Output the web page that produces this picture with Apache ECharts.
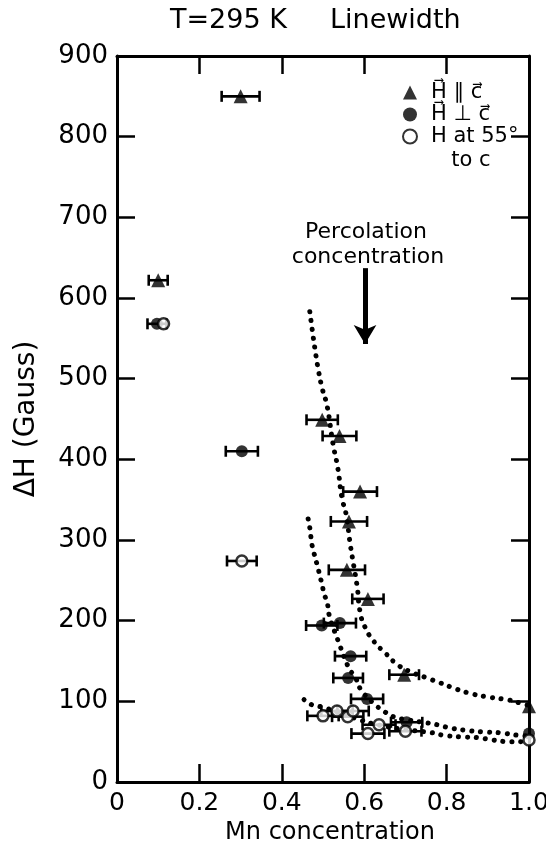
<!DOCTYPE html>
<html><head><meta charset="utf-8">
<script src="https://cdn.jsdelivr.net/npm/echarts@6/dist/echarts.min.js"></script>
<style>html,body{margin:0;padding:0;background:#fff}#c{width:546px;height:853px}</style>
</head><body><div id="c"></div>
<script>
const FONT = '"DejaVu Sans", sans-serif';

// tick labels
const xTickLabels = ['0', '0.2', '0.4', '0.6', '0.8', '1.0'];
const yTickLabels = ['0', '100', '200', '300', '400', '500', '600', '700', '800', '900'];

// H parallel c (filled triangles)
const parX   = [0.10, 0.30, 0.498, 0.54, 0.59, 0.563, 0.558, 0.609, 0.697, 1.0];
const parY   = [622, 850, 449, 429, 360, 323, 263, 227, 133, 94];
const parErr = [0.023, 0.046, 0.038, 0.041, 0.041, 0.044, 0.044, 0.038, 0.036, 0];

// H perpendicular c (filled circles)
const perX   = [0.097, 0.303, 0.497, 0.541, 0.567, 0.561, 0.607, 0.703, 1.0];
const perY   = [568, 410, 194, 197, 156, 129, 103, 74, 60];
const perErr = [0.023, 0.039, 0.038, 0.039, 0.038, 0.036, 0.039, 0.038, 0];

// H at 55 deg to c (open circles)
const obqX   = [0.113, 0.303, 0.50, 0.534, 0.56, 0.573, 0.636, 0.609, 0.70, 1.0];
const obqY   = [568, 274, 82, 88, 81, 88, 71, 60, 63, 52];
const obqErr = [0, 0.036, 0.038, 0.038, 0.038, 0.038, 0.04, 0.04, 0.039, 0];

// dotted guide curves
const curvePar = [[0.468,583],[0.474,560],[0.481,535],[0.489,510],[0.498,488],[0.51,466],[0.524,420],[0.536,389],[0.546,352],[0.556,332],[0.566,295],[0.573,273],[0.583,242],[0.59,211],[0.602,192],[0.624,174],[0.653,159],[0.682,145],[0.715,136],[0.752,129],[0.784,123],[0.825,115],[0.864,109],[0.905,105],[0.947,102],[0.978,98],[1.0,95]];
const curvePer = [[0.464,326],[0.468,315],[0.473,295],[0.478,284],[0.488,265],[0.493,254],[0.498,245],[0.502,234],[0.51,223],[0.515,207],[0.539,172],[0.563,141],[0.578,130],[0.594,113],[0.631,94],[0.65,87],[0.67,81],[0.705,77],[0.743,74],[0.777,71],[0.808,67],[0.849,64],[0.888,62],[0.93,61],[0.971,58],[1.0,57]];
const curveObq = [[0.454,102],[0.476,95],[0.497,93],[0.54,86],[0.59,77],[0.631,71],[0.7,65],[0.765,61],[0.791,58],[0.833,56],[0.874,55],[0.913,52],[0.954,50],[0.978,50],[1.0,49]];

// percolation arrow (data coords)
const arrowX = 0.602;
const arrowTop = 637;
const arrowTip = 543;

function zip3(xs, ys, es) { return xs.map((x, i) => [x, ys[i], es[i]]); }

function errRender(params, api) {
  const x = api.value(0), y = api.value(1), e = api.value(2);
  if (!e) return null;
  const a = api.coord([x - e, y]);
  const b = api.coord([x + e, y]);
  const st = { stroke: '#000', lineWidth: 2.6 };
  return {
    type: 'group',
    children: [
      { type: 'line', shape: { x1: a[0], y1: a[1], x2: b[0], y2: b[1] }, style: st },
      { type: 'line', shape: { x1: a[0], y1: a[1] - 5.5, x2: a[0], y2: a[1] + 5.5 }, style: st },
      { type: 'line', shape: { x1: b[0], y1: b[1] - 5.5, x2: b[0], y2: b[1] + 5.5 }, style: st }
    ]
  };
}

const dotLine = { color: '#000', width: 5, type: [0.1, 8.8], cap: 'round' };
const frameLine = { onZero: false, show: true, lineStyle: { color: '#000', width: 3 } };
const inTick = { show: true, inside: true, length: 18, lineStyle: { color: '#000', width: 2.5 } };

const chart = echarts.init(document.getElementById('c'), null, { renderer: 'canvas' });
chart.setOption({
  backgroundColor: '#fff',
  animation: false,
  textStyle: { fontFamily: FONT, color: '#000' },
  grid: { left: 117, right: 17, top: 56, bottom: 71, containLabel: false, outerBoundsMode: 'none' },
  xAxis: [{
    type: 'value', min: 0, max: 1, interval: 0.2, position: 'bottom',
    name: 'Mn concentration', nameLocation: 'middle', nameGap: 36,
    nameTextStyle: { fontFamily: FONT, fontSize: 24, color: '#000', padding: [0, 0, 0, 14] },
    axisLine: frameLine, axisTick: inTick,
    axisLabel: { fontFamily: FONT, fontSize: 25, color: '#000', margin: 9,
      formatter: v => xTickLabels[Math.round(v / 0.2)] },
    splitLine: { show: false }
  }, {
    type: 'value', min: 0, max: 1, interval: 0.2, position: 'top',
    axisLine: frameLine, axisTick: inTick,
    axisLabel: { show: false }, splitLine: { show: false }
  }],
  yAxis: [{
    type: 'value', min: 0, max: 900, interval: 100, position: 'left',
    name: 'ΔH (Gauss)', nameLocation: 'middle', nameGap: 76, nameRotate: 90,
    nameTextStyle: { fontFamily: FONT, fontSize: 28, color: '#000' },
    axisLine: frameLine, axisTick: inTick,
    axisLabel: { fontFamily: FONT, fontSize: 26, color: '#000', margin: 9,
      formatter: v => yTickLabels[Math.round(v / 100)] },
    splitLine: { show: false }
  }, {
    type: 'value', min: 0, max: 900, interval: 100, position: 'right',
    axisLine: frameLine, axisTick: inTick,
    axisLabel: { show: false }, splitLine: { show: false }
  }],
  legend: {
    orient: 'vertical', left: 397, top: 77, itemWidth: 14, itemHeight: 14, itemGap: 1,
    textStyle: { fontFamily: FONT, fontSize: 21, color: '#000', padding: [0, 0, 0, 9] },
    data: ['H\u20D7 \u2225 c\u20D7', 'H\u20D7 \u22A5 c\u20D7', 'H at 55°'],
    selectedMode: false
  },
  graphic: [
    { type: 'text', left: 170, top: 7, style: { text: 'T=295 K', font: '27px ' + FONT, fill: '#000' } },
    { type: 'text', left: 330, top: 7, style: { text: 'Linewidth', font: '27px ' + FONT, fill: '#000' } },
    { type: 'text', x: 471, y: 161, style: { text: 'to c', font: '21px ' + FONT, fill: '#000', align: 'center', verticalAlign: 'middle' } },
    { type: 'text', x: 366, y: 232, style: { text: 'Percolation', font: '22px ' + FONT, fill: '#000', align: 'center', verticalAlign: 'middle' } },
    { type: 'text', x: 368, y: 257, style: { text: 'concentration', font: '22px ' + FONT, fill: '#000', align: 'center', verticalAlign: 'middle' } }
  ],
  series: [
    { type: 'line', data: curvePar, smooth: true, showSymbol: false, symbol: 'none', lineStyle: dotLine, silent: true, z: 1,
      markLine: {
        silent: true, symbol: ['none', 'arrow'], symbolSize: [17, 19],
        lineStyle: { color: '#000', width: 5, type: 'solid' }, label: { show: false },
        data: [[{ coord: [arrowX, arrowTop] }, { coord: [arrowX, arrowTip] }]]
      } },
    { type: 'line', data: curvePer, smooth: true, showSymbol: false, symbol: 'none', lineStyle: dotLine, silent: true, z: 1 },
    { type: 'line', data: curveObq, smooth: true, showSymbol: false, symbol: 'none', lineStyle: dotLine, silent: true, z: 1 },
    { type: 'custom', renderItem: errRender, data: zip3(parX, parY, parErr), z: 2, silent: true },
    { type: 'custom', renderItem: errRender, data: zip3(perX, perY, perErr), z: 2, silent: true },
    { type: 'custom', renderItem: errRender, data: zip3(obqX, obqY, obqErr), z: 2, silent: true },
    { name: 'H\u20D7 \u2225 c\u20D7', type: 'scatter', symbol: 'triangle', symbolSize: 14, z: 3,
      itemStyle: { color: '#000' }, data: parX.map((x, i) => [x, parY[i]]) },
    { name: 'H\u20D7 \u22A5 c\u20D7', type: 'scatter', symbol: 'circle', symbolSize: 12, z: 3,
      itemStyle: { color: '#000' }, data: perX.map((x, i) => [x, perY[i]]) },
    { name: 'H at 55°', type: 'scatter', symbol: 'circle', symbolSize: 11, z: 4,
      itemStyle: { color: '#fff', borderColor: '#000', borderWidth: 2.5 }, data: obqX.map((x, i) => [x, obqY[i]]) }
  ]
});
</script></body></html>
